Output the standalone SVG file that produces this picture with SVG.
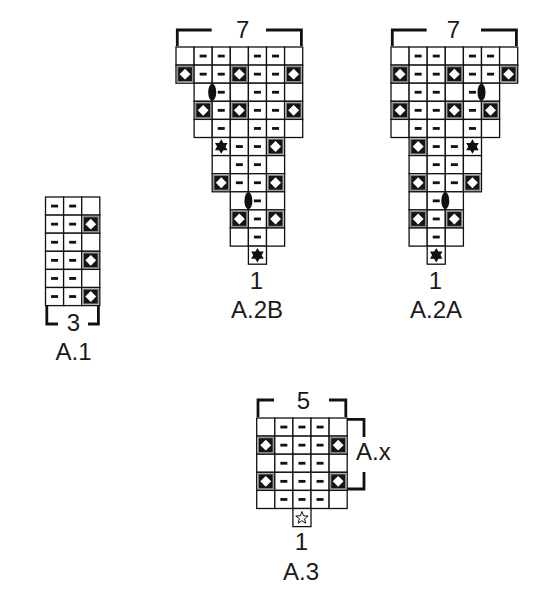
<svg xmlns="http://www.w3.org/2000/svg" width="550" height="597" viewBox="0 0 550 597">
<style>
.c{fill:#fff;stroke:#111;stroke-width:1.3}
.br{fill:none;stroke:#111;stroke-width:2.8;stroke-linecap:butt;stroke-linejoin:miter}
.t{font-family:"Liberation Sans",Arial,sans-serif;font-size:24px;fill:#1a1a1a;text-anchor:middle}
.ov{fill:#111}
</style>
<defs>
<g id="e"><rect class="c" width="18.1" height="18.1"/></g>
<g id="m"><rect class="c" width="18.1" height="18.1"/><rect x="5.55" y="7.65" width="7" height="2.8" fill="#111"/></g>
<g id="d"><rect class="c" width="18.1" height="18.1"/><rect x="1.6" y="1.6" width="14.9" height="14.9" fill="#141414" stroke="#8c8c8c" stroke-width="1.2"/><polygon points="9.05,3.6 14.5,9.05 9.05,14.5 3.6,9.05" fill="#fff"/></g>
<g id="s"><rect class="c" width="18.1" height="18.1"/><polygon points="9.05,1.8 15.33,12.68 2.77,12.68" fill="#111"/><polygon points="9.05,16.3 15.33,5.42 2.77,5.42" fill="#111"/></g>
<g id="w"><rect class="c" width="18.1" height="18.1"/><polygon points="9.05,3 10.64,7.32 15.23,7.49 11.62,10.33 12.87,14.76 9.05,12.2 5.23,14.76 6.48,10.33 2.87,7.49 7.46,7.32" fill="#fff" stroke="#111" stroke-width="1" stroke-linejoin="miter"/></g>
</defs>

<g id="A1">
<g transform="translate(45.5,197)">
<use href="#m" x="0" y="0"/><use href="#m" x="18.1" y="0"/><use href="#e" x="36.2" y="0"/>
<use href="#m" x="0" y="18.1"/><use href="#m" x="18.1" y="18.1"/><use href="#d" x="36.2" y="18.1"/>
<use href="#m" x="0" y="36.2"/><use href="#m" x="18.1" y="36.2"/><use href="#e" x="36.2" y="36.2"/>
<use href="#m" x="0" y="54.3"/><use href="#m" x="18.1" y="54.3"/><use href="#d" x="36.2" y="54.3"/>
<use href="#m" x="0" y="72.4"/><use href="#m" x="18.1" y="72.4"/><use href="#e" x="36.2" y="72.4"/>
<use href="#m" x="0" y="90.5"/><use href="#m" x="18.1" y="90.5"/><use href="#d" x="36.2" y="90.5"/>
</g>
<path class="br" d="M46.8,306 V324 H58 M88,324 H98.4 V306"/>
<text class="t" x="73.5" y="331">3</text>
<text class="t" x="73.5" y="360">A.1</text>
</g>

<g id="A2B">
<g transform="translate(176,47)">
<use href="#e" x="0" y="0"/><use href="#m" x="18.1" y="0"/><use href="#m" x="36.2" y="0"/><use href="#e" x="54.3" y="0"/><use href="#m" x="72.4" y="0"/><use href="#m" x="90.5" y="0"/><use href="#e" x="108.6" y="0"/>
<use href="#d" x="0" y="18.1"/><use href="#m" x="18.1" y="18.1"/><use href="#m" x="36.2" y="18.1"/><use href="#d" x="54.3" y="18.1"/><use href="#m" x="72.4" y="18.1"/><use href="#m" x="90.5" y="18.1"/><use href="#d" x="108.6" y="18.1"/>
<use href="#e" x="18.1" y="36.2"/><use href="#m" x="36.2" y="36.2"/><use href="#e" x="54.3" y="36.2"/><use href="#m" x="72.4" y="36.2"/><use href="#m" x="90.5" y="36.2"/><use href="#e" x="108.6" y="36.2"/>
<use href="#d" x="18.1" y="54.3"/><use href="#m" x="36.2" y="54.3"/><use href="#d" x="54.3" y="54.3"/><use href="#m" x="72.4" y="54.3"/><use href="#m" x="90.5" y="54.3"/><use href="#d" x="108.6" y="54.3"/>
<use href="#e" x="18.1" y="72.4"/><use href="#m" x="36.2" y="72.4"/><use href="#e" x="54.3" y="72.4"/><use href="#m" x="72.4" y="72.4"/><use href="#m" x="90.5" y="72.4"/><use href="#e" x="108.6" y="72.4"/>
<use href="#s" x="36.2" y="90.5"/><use href="#m" x="54.3" y="90.5"/><use href="#m" x="72.4" y="90.5"/><use href="#d" x="90.5" y="90.5"/>
<use href="#e" x="36.2" y="108.6"/><use href="#m" x="54.3" y="108.6"/><use href="#m" x="72.4" y="108.6"/><use href="#e" x="90.5" y="108.6"/>
<use href="#d" x="36.2" y="126.7"/><use href="#m" x="54.3" y="126.7"/><use href="#m" x="72.4" y="126.7"/><use href="#d" x="90.5" y="126.7"/>
<use href="#e" x="54.3" y="144.8"/><use href="#m" x="72.4" y="144.8"/><use href="#e" x="90.5" y="144.8"/>
<use href="#d" x="54.3" y="162.9"/><use href="#m" x="72.4" y="162.9"/><use href="#d" x="90.5" y="162.9"/>
<use href="#e" x="54.3" y="181"/><use href="#m" x="72.4" y="181"/><use href="#e" x="90.5" y="181"/>
<use href="#s" x="72.4" y="199.1"/>
<ellipse class="ov" cx="36.2" cy="45.25" rx="4" ry="8.5"/>
<ellipse class="ov" cx="72.4" cy="153.85" rx="4" ry="8.5"/>
</g>
<path class="br" d="M177.3,46 V30 H211.7 M266,30 H301.4 V46"/>
<text class="t" x="242.8" y="38">7</text>
<text class="t" x="256.5" y="288.5">1</text>
<text class="t" x="257" y="318">A.2B</text>
</g>

<g id="A2A">
<g transform="translate(391,47)">
<use href="#e" x="0" y="0"/><use href="#m" x="18.1" y="0"/><use href="#m" x="36.2" y="0"/><use href="#e" x="54.3" y="0"/><use href="#m" x="72.4" y="0"/><use href="#m" x="90.5" y="0"/><use href="#e" x="108.6" y="0"/>
<use href="#d" x="0" y="18.1"/><use href="#m" x="18.1" y="18.1"/><use href="#m" x="36.2" y="18.1"/><use href="#d" x="54.3" y="18.1"/><use href="#m" x="72.4" y="18.1"/><use href="#m" x="90.5" y="18.1"/><use href="#d" x="108.6" y="18.1"/>
<use href="#e" x="0" y="36.2"/><use href="#m" x="18.1" y="36.2"/><use href="#m" x="36.2" y="36.2"/><use href="#e" x="54.3" y="36.2"/><use href="#m" x="72.4" y="36.2"/><use href="#e" x="90.5" y="36.2"/>
<use href="#d" x="0" y="54.3"/><use href="#m" x="18.1" y="54.3"/><use href="#m" x="36.2" y="54.3"/><use href="#d" x="54.3" y="54.3"/><use href="#m" x="72.4" y="54.3"/><use href="#d" x="90.5" y="54.3"/>
<use href="#e" x="0" y="72.4"/><use href="#m" x="18.1" y="72.4"/><use href="#m" x="36.2" y="72.4"/><use href="#e" x="54.3" y="72.4"/><use href="#m" x="72.4" y="72.4"/><use href="#e" x="90.5" y="72.4"/>
<use href="#d" x="18.1" y="90.5"/><use href="#m" x="36.2" y="90.5"/><use href="#m" x="54.3" y="90.5"/><use href="#s" x="72.4" y="90.5"/>
<use href="#e" x="18.1" y="108.6"/><use href="#m" x="36.2" y="108.6"/><use href="#m" x="54.3" y="108.6"/><use href="#e" x="72.4" y="108.6"/>
<use href="#d" x="18.1" y="126.7"/><use href="#m" x="36.2" y="126.7"/><use href="#m" x="54.3" y="126.7"/><use href="#d" x="72.4" y="126.7"/>
<use href="#e" x="18.1" y="144.8"/><use href="#m" x="36.2" y="144.8"/><use href="#e" x="54.3" y="144.8"/>
<use href="#d" x="18.1" y="162.9"/><use href="#m" x="36.2" y="162.9"/><use href="#d" x="54.3" y="162.9"/>
<use href="#e" x="18.1" y="181"/><use href="#m" x="36.2" y="181"/><use href="#e" x="54.3" y="181"/>
<use href="#s" x="36.2" y="199.1"/>
<ellipse class="ov" cx="90.5" cy="45.25" rx="4" ry="8.5"/>
<ellipse class="ov" cx="54.3" cy="153.85" rx="4" ry="8.5"/>
</g>
<path class="br" d="M392.3,46 V30 H426.7 M481,30 H516.4 V46"/>
<text class="t" x="453.5" y="38">7</text>
<text class="t" x="435.5" y="288.5">1</text>
<text class="t" x="436" y="318">A.2A</text>
</g>

<g id="A3">
<g transform="translate(256.7,418)">
<use href="#e" x="0" y="0"/><use href="#m" x="18.1" y="0"/><use href="#m" x="36.2" y="0"/><use href="#m" x="54.3" y="0"/><use href="#e" x="72.4" y="0"/>
<use href="#d" x="0" y="18.1"/><use href="#m" x="18.1" y="18.1"/><use href="#m" x="36.2" y="18.1"/><use href="#m" x="54.3" y="18.1"/><use href="#d" x="72.4" y="18.1"/>
<use href="#e" x="0" y="36.2"/><use href="#m" x="18.1" y="36.2"/><use href="#m" x="36.2" y="36.2"/><use href="#m" x="54.3" y="36.2"/><use href="#e" x="72.4" y="36.2"/>
<use href="#d" x="0" y="54.3"/><use href="#m" x="18.1" y="54.3"/><use href="#m" x="36.2" y="54.3"/><use href="#m" x="54.3" y="54.3"/><use href="#d" x="72.4" y="54.3"/>
<use href="#e" x="0" y="72.4"/><use href="#m" x="18.1" y="72.4"/><use href="#m" x="36.2" y="72.4"/><use href="#m" x="54.3" y="72.4"/><use href="#e" x="72.4" y="72.4"/>
<use href="#w" x="36.2" y="90.5"/>
</g>
<path class="br" d="M258,417 V400 H274 M329,400 H345.8 V417"/>
<text class="t" x="303.5" y="409">5</text>
<path class="br" d="M347,419.4 H364 V437 M364,472 V489 H347"/>
<text class="t" x="356" y="460" style="text-anchor:start">A.x</text>
<text class="t" x="301.5" y="550">1</text>
<text class="t" x="301" y="580">A.3</text>
</g>

<g id="connectors"/>
</svg>
